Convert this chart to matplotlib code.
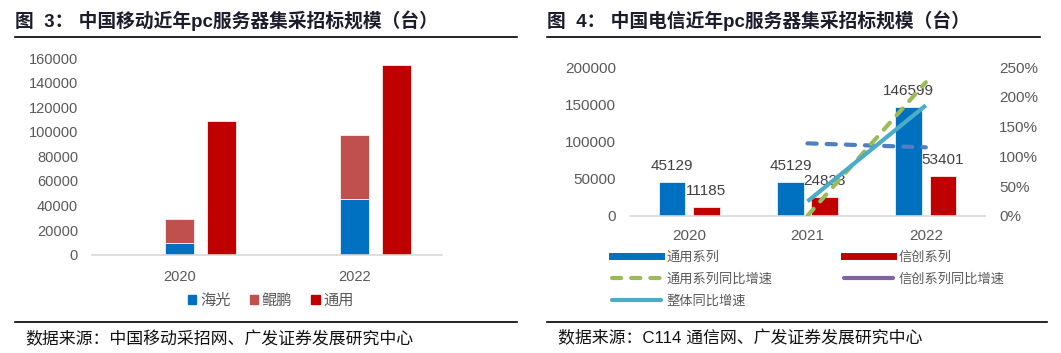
import numpy as np
import matplotlib
matplotlib.use("Agg")
import matplotlib.pyplot as plt
from matplotlib.lines import Line2D
from matplotlib.patches import Patch
from matplotlib.ticker import FuncFormatter

plt.rcParams['font.family'] = ['Liberation Sans', 'Noto Sans CJK SC', 'DejaVu Sans']

# ---------------- data ----------------
# Figure 3: China Mobile
years_cm = ['2020', '2022']
haiguang = [9300, 45000]
kunpeng = [19400, 52200]
tongyong_cm = [109000, 154000]
cm_legend = ['海光', '鲲鹏', '通用']
cm_yticks = [0, 20000, 40000, 60000, 80000, 100000, 120000, 140000, 160000]

# Figure 4: China Telecom
years_ct = ['2020', '2021', '2022']
tongyong_ct = [45129, 45129, 146599]
xinchuang_ct = [11185, 24823, 53401]
tongyong_yoy = [np.nan, 0.0, 2.248]
xinchuang_yoy = [np.nan, 1.219, 1.151]
total_yoy = [np.nan, 0.242, 1.859]
ct_legend = ['通用系列', '通用系列同比增速', '整体同比增速', '信创系列', '信创系列同比增速']
ct_yticks = [0, 50000, 100000, 150000, 200000]
ct_y2ticks = [0, 0.5, 1.0, 1.5, 2.0, 2.5]

title_cm = '图  3： 中国移动近年pc服务器集采招标规模（台）'
title_ct = '图  4： 中国电信近年pc服务器集采招标规模（台）'
source_cm = '数据来源：中国移动采招网、广发证券发展研究中心'
source_ct = '数据来源：C114 通信网、广发证券发展研究中心'

# ---------------- figure ----------------
W, H = 1061, 353
fig = plt.figure(figsize=(W / 100, H / 100), dpi=100)

def fx(px):
    return px / W

def fy(py):
    return 1 - py / H

def axes_px(x0, y_top, x1, y_bot):
    return fig.add_axes([fx(x0), fy(y_bot), fx(x1 - x0), (y_bot - y_top) / H])

tick_color = '#595959'
axis_color = '#D9D9D9'

# ---------- left chart ----------
ax = axes_px(92, 58, 442, 254.7)
x = np.arange(len(years_cm))
bw = 0.166
off = 0.24
ax.bar(x, haiguang, bw, color='#0070C0', edgecolor='white', linewidth=0.5, label=cm_legend[0])
ax.bar(x, kunpeng, bw, bottom=haiguang, color='#C0504D', edgecolor='white', linewidth=0.5, label=cm_legend[1])
ax.bar(x + off, tongyong_cm, bw, color='#C00000', edgecolor='white', linewidth=0.5, label=cm_legend[2])
ax.set_xlim(-0.5, len(years_cm) - 0.5)
ax.set_ylim(0, 160000)
ax.set_yticks(cm_yticks)
ax.set_xticks(x)
ax.set_xticklabels(years_cm)
for s in ['top', 'right', 'left']:
    ax.spines[s].set_visible(False)
ax.spines['bottom'].set_color(axis_color)
ax.spines['bottom'].set_linewidth(1.2)
ax.tick_params(axis='both', length=0, labelsize=10.5, labelcolor=tick_color)
ax.tick_params(axis='y', pad=10)
ax.tick_params(axis='x', pad=11)

handles = [Patch(color='#0070C0'), Patch(color='#C0504D'), Patch(color='#C00000')]
fig.legend(handles, cm_legend, loc='center', bbox_to_anchor=(fx(271), fy(300.5)),
           ncol=3, frameon=False, handlelength=0.55, handleheight=0.55,
           handletextpad=0.25, columnspacing=1.25, labelcolor=tick_color,
           prop={'family': ['Noto Sans CJK SC'], 'size': 11})

# ---------- right chart ----------
ax1 = axes_px(630, 67.3, 985, 215.7)
x3 = np.arange(len(years_ct))
bw2 = 0.225
off2 = 0.144
ax1.bar(x3 - off2, tongyong_ct, bw2, color='#0070C0', edgecolor='white', linewidth=0.5)
ax1.bar(x3 + off2, xinchuang_ct, bw2, color='#C00000', edgecolor='white', linewidth=0.5)
ax1.set_xlim(-0.5, len(years_ct) - 0.5)
ax1.set_ylim(0, 200000)
ax1.set_yticks(ct_yticks)
ax1.set_xticks(x3)
ax1.set_xticklabels(years_ct)
for s in ['top', 'right', 'left']:
    ax1.spines[s].set_visible(False)
ax1.spines['bottom'].set_color(axis_color)
ax1.spines['bottom'].set_linewidth(1.2)
ax1.tick_params(axis='both', length=0, labelsize=11, labelcolor=tick_color)
ax1.tick_params(axis='y', pad=10)
ax1.tick_params(axis='x', pad=9.5)

for xi, v in zip(x3 - off2, tongyong_ct):
    ax1.annotate(str(v), (xi, v), xytext=(0, 11.5), textcoords='offset points',
                 ha='center', va='center', fontsize=11, color='#404040', zorder=6)
for xi, v in zip(x3 + off2, xinchuang_ct):
    ax1.annotate(str(v), (xi, v), xytext=(0, 11.5), textcoords='offset points',
                 ha='center', va='center', fontsize=11, color='#404040', zorder=6)

ax2 = ax1.twinx()
ax2.set_ylim(0, 2.5)
ax2.set_yticks(ct_y2ticks)
ax2.yaxis.set_major_formatter(FuncFormatter(lambda v, p: f'{v*100:.0f}%'))
for s in ['top', 'right', 'left', 'bottom']:
    ax2.spines[s].set_visible(False)
ax2.tick_params(axis='y', length=0, labelsize=11, labelcolor=tick_color, pad=10)

ax2.plot(x3, xinchuang_yoy, color='#4F7FC0', lw=3, dashes=(2.2, 2.4), dash_capstyle='round')
ax2.plot(x3, tongyong_yoy, color='#9BBB59', lw=3, dashes=(2.2, 2.4), dash_capstyle='round')
ax2.plot(x3, total_yoy, color='#4BACC6', lw=3, solid_capstyle='butt')

ct_handles = [
    Line2D([], [], color='#0070C0', lw=5),
    Line2D([], [], color='#9BBB59', lw=3, dashes=(2.2, 2.4), dash_capstyle='round'),
    Line2D([], [], color='#4BACC6', lw=3, solid_capstyle='round'),
    Line2D([], [], color='#C00000', lw=5),
    Line2D([], [], color='#8064A2', lw=3, solid_capstyle='round'),
]
fig.legend(ct_handles, ct_legend, loc='upper left', bbox_to_anchor=(fx(612), fy(251)),
           ncol=2, frameon=False, borderpad=0, borderaxespad=0,
           handlelength=3.7, handletextpad=0.45, columnspacing=5.4, labelspacing=0.68,
           labelcolor=tick_color, prop={'family': ['Noto Sans CJK SC'], 'size': 9.5})

# ---------- titles, rules, sources ----------
title_kw = dict(fontsize=13.5, fontweight='bold', color='#1c1c2c', va='center', ha='left',
                family=['Liberation Sans', 'Noto Sans CJK SC'])
fig.text(fx(15), fy(21), title_cm, **title_kw)
fig.text(fx(547), fy(21), title_ct, **title_kw)

for (x0, x1, yy) in [(15, 517, 37), (547, 1040, 37), (15, 517, 322), (547, 1047, 322)]:
    fig.add_artist(Line2D([fx(x0), fx(x1)], [fy(yy), fy(yy)], color='black', lw=1.2,
                          transform=fig.transFigure))

src_kw = dict(fontsize=12.2, color='#111111', va='center', ha='left',
              family=['Liberation Sans', 'Noto Sans CJK SC'])
fig.text(fx(25), fy(339), source_cm, **src_kw)
fig.text(fx(558), fy(338), source_ct, **src_kw)

fig.savefig('out.png', dpi=100)
